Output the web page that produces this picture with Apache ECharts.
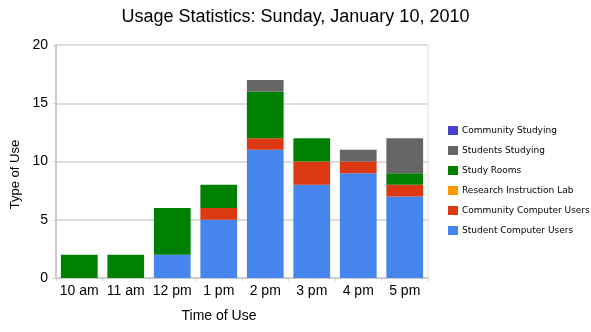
<!DOCTYPE html>
<html><head><meta charset="utf-8">
<script src="https://cdn.jsdelivr.net/npm/echarts@6/dist/echarts.min.js"></script>
<style>html,body{margin:0;padding:0;background:#fff;}#c{width:591px;height:332px;}</style>
</head><body><div id="c"></div>
<script>
var categories = ['10 am','11 am','12 pm','1 pm','2 pm','3 pm','4 pm','5 pm'];
var studentComputerUsers   = [0, 0, 2, 5, 11, 8, 9, 7];
var communityComputerUsers = [0, 0, 0, 1, 1, 2, 1, 1];
var researchInstructionLab = [0, 0, 0, 0, 0, 0, 0, 0];
var studyRooms             = [2, 2, 4, 2, 4, 2, 0, 1];
var studentsStudying       = [0, 0, 0, 0, 1, 0, 1, 3];
var communityStudying      = [0, 0, 0, 0, 0, 0, 0, 0];
var yTicks = [0, 5, 10, 15, 20];

var seriesDefs = [
  ['Student Computer Users', studentComputerUsers, '#4684ee'],
  ['Community Computer Users', communityComputerUsers, '#dc3912'],
  ['Research Instruction Lab', researchInstructionLab, '#ff9900'],
  ['Study Rooms', studyRooms, '#008000'],
  ['Students Studying', studentsStudying, '#666666'],
  ['Community Studying', communityStudying, '#4942cc']
];
var chart = echarts.init(document.getElementById('c'), null, {renderer:'canvas'});
var font = 'Arial, "Liberation Sans", sans-serif';
chart.setOption({
  animation: false,
  title: {
    text: 'Usage Statistics: Sunday, January 10, 2010',
    left: 'center', top: 8, padding: 0,
    textStyle: {fontFamily: font, fontSize: 18, fontWeight: 'normal', color: '#000'}
  },
  legend: {
    orient: 'vertical', left: 448, top: 126, padding: 0,
    itemWidth: 10, itemHeight: 9, itemGap: 11,
    icon: 'rect',
    data: seriesDefs.map(function(s){return s[0];}).reverse(),
    textStyle: {fontFamily: '"DejaVu Sans", Verdana, sans-serif', fontSize: 9, color: '#000', padding: [0,0,0,-1]}
  },
  grid: {left: 56, right: 163, top: 45, bottom: 54, show: true, borderColor: '#dddddd', borderWidth: 1,
    containLabel: false, outerBoundsMode: 'none'},
  xAxis: {
    type: 'category', data: categories,
    name: 'Time of Use', nameLocation: 'middle', nameGap: 31,
    nameTextStyle: {fontFamily: font, fontSize: 14, color: '#000', padding: [0, 46, 0, 0]},
    axisLine: {lineStyle: {color: '#cccccc', width: 2}},
    axisTick: {show: true, length: 3, lineStyle: {color: '#cccccc'}},
    axisLabel: {fontFamily: font, fontSize: 14, color: '#000', margin: 6, interval: 0}
  },
  yAxis: {
    type: 'value', min: yTicks[0], max: yTicks[yTicks.length-1], interval: 5,
    name: 'Type of Use', nameLocation: 'middle', nameGap: 32,
    nameTextStyle: {fontFamily: font, fontSize: 13, color: '#000', padding: [0, 26, 0, 0]},
    axisLine: {show: true, lineStyle: {color: '#cccccc', width: 2}},
    axisTick: {show: true, length: 3, lineStyle: {color: '#cccccc'}},
    axisLabel: {fontFamily: font, fontSize: 14, color: '#000', margin: 8},
    splitLine: {lineStyle: {color: '#dddddd', width: 2}}
  },
  series: seriesDefs.map(function(s){
    return {name: s[0], type: 'bar', stack: 'all', data: s[1], barCategoryGap: '21%',
      itemStyle: {color: s[2]}};
  })
});
</script></body></html>
